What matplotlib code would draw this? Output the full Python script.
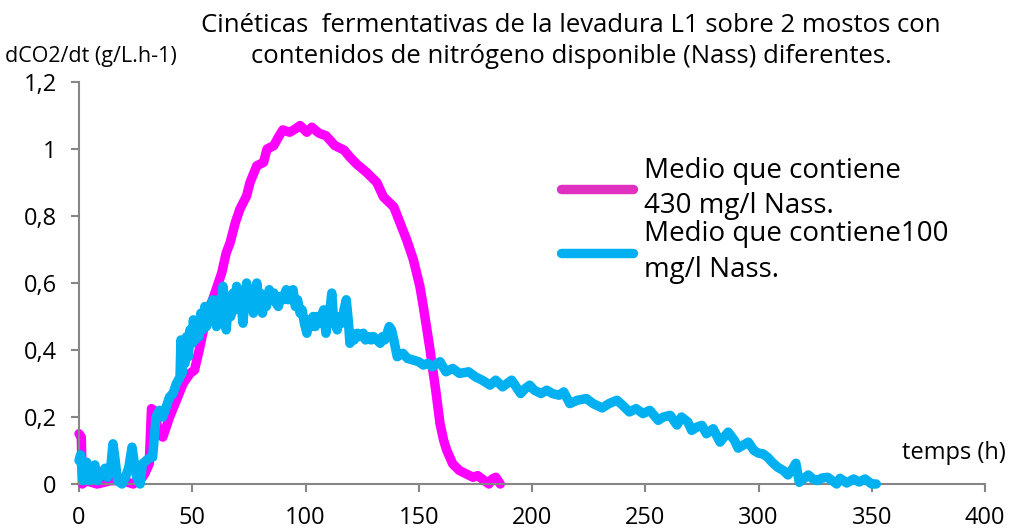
import matplotlib
matplotlib.use('Agg')
import matplotlib.pyplot as plt
from matplotlib.ticker import FuncFormatter

# Medio con 430 mg/l Nass: (tiempo h, dCO2/dt)
nass_430 = [
    (0, 0.15), (1, 0.14), (1.5, 0.0), (3, 0.01), (8, 0.0), (14, 0.01), (19, 0.01),
    (24, 0.0), (28, 0.02), (29, 0.03), (31, 0.06), (32, 0.225), (33, 0.22),
    (34, 0.2), (35, 0.15), (37, 0.14), (40, 0.2), (43, 0.25), (46, 0.3), (49, 0.33),
    (51, 0.34), (53.4, 0.41), (56.5, 0.51), (59, 0.55), (61, 0.59), (63, 0.63),
    (65, 0.69), (66.7, 0.72), (69, 0.78), (71, 0.82), (74, 0.86), (75.5, 0.9),
    (78.5, 0.95), (81.5, 0.96), (83, 1.0), (86, 1.01), (88, 1.035), (90, 1.057),
    (93, 1.05), (95.5, 1.06), (97.6, 1.07), (100.6, 1.05), (102.8, 1.065),
    (106, 1.047), (109, 1.04), (113, 1.01), (117, 0.997), (119.6, 0.976),
    (122.6, 0.955), (127, 0.93), (131.5, 0.9), (134.4, 0.857), (139, 0.827),
    (141.7, 0.78), (144.6, 0.73), (147.6, 0.67), (150.5, 0.59), (152, 0.53),
    (153.4, 0.47), (155, 0.4), (156, 0.35), (157.5, 0.28), (159.4, 0.18),
    (161, 0.13), (162.4, 0.1), (165, 0.06), (168, 0.04), (171, 0.03), (174, 0.02),
    (176, 0.025), (178, 0.015), (180, 0.005), (181, 0.0), (182.5, 0.015),
    (184, 0.02), (185, 0.01), (186, 0.0),
]

# Medio con 100 mg/l Nass, por tramos
nass_100_start = [
    (0, 0.07), (0.7, 0.087), (1.8, 0.01), (3.4, 0.065), (4.5, 0.01), (7, 0.057),
    (8, 0.01), (11.5, 0.047), (12.5, 0.02), (14, 0.05), (15, 0.12), (16, 0.07),
    (17, 0.01), (19, 0.0), (20.5, 0.02), (22, 0.05), (23.4, 0.11), (24.5, 0.06),
    (25.5, 0.02), (27, 0.0), (28, 0.06), (30.5, 0.075), (32.5, 0.08), (33, 0.12),
    (34, 0.2), (35.5, 0.22), (37, 0.2), (38.5, 0.23), (40, 0.26), (41.5, 0.27),
    (43, 0.3), (44.6, 0.32),
]
nass_100_peak = [
    (45, 0.43), (45.5, 0.33), (46, 0.41), (46.8, 0.36), (47.5, 0.44), (48.3, 0.38),
    (49, 0.46), (50, 0.42), (50.5, 0.49), (51.3, 0.43), (52, 0.48), (53, 0.44),
    (53.8, 0.51), (54.5, 0.46), (55.6, 0.53), (56.3, 0.47), (57, 0.52), (58, 0.49),
    (59, 0.55), (60, 0.5), (60.7, 0.47), (61.5, 0.55), (62.3, 0.5), (63.6, 0.59),
    (64.5, 0.52), (65, 0.46), (66, 0.55), (67, 0.5), (68, 0.57), (69, 0.52),
    (69.6, 0.59), (70.5, 0.53), (71.3, 0.56), (72.4, 0.48), (73.2, 0.55), (74, 0.6),
    (75, 0.53), (75.8, 0.57), (77, 0.51), (77.8, 0.56), (78.5, 0.6), (79.3, 0.55),
    (80, 0.57), (81, 0.51), (81.8, 0.55), (82.7, 0.53), (84, 0.58), (85, 0.55),
    (86, 0.57), (87, 0.54), (88, 0.53), (89, 0.56), (90, 0.55), (91.5, 0.58),
    (92.3, 0.55), (93, 0.57), (94, 0.55), (94.5, 0.58), (95.5, 0.53), (96.5, 0.55),
    (97.6, 0.51), (98.5, 0.52), (99.5, 0.48), (100.6, 0.45), (101.5, 0.49),
    (102.5, 0.47), (103.4, 0.5), (104.3, 0.47), (105, 0.5), (106, 0.48), (107, 0.5),
    (108, 0.52), (109, 0.45), (110, 0.5), (110.8, 0.52), (111.6, 0.57), (112.3, 0.5),
    (113, 0.48), (114, 0.46), (115, 0.5), (116, 0.48), (117, 0.52), (118, 0.55),
    (119, 0.48), (119.6, 0.42), (120.5, 0.45), (121.5, 0.43), (123, 0.45),
    (124, 0.44), (125.5, 0.45), (126.5, 0.43), (128, 0.44), (129, 0.43), (130, 0.44),
    (131.5, 0.43), (133, 0.42), (134, 0.44), (135, 0.43), (136, 0.45), (137, 0.47),
    (138, 0.46), (139, 0.43),
]
nass_100_tail = [
    (140.5, 0.38), (143, 0.39), (145, 0.375), (147.5, 0.37), (150, 0.365),
    (152, 0.355), (154, 0.36), (156, 0.35), (159.4, 0.365), (162, 0.335),
    (165, 0.345), (168, 0.33), (172, 0.335), (175, 0.32), (178, 0.31),
    (181.5, 0.295), (184, 0.31), (187, 0.29), (189, 0.3), (191, 0.31), (193, 0.29),
    (195, 0.27), (197, 0.285), (199, 0.295), (201, 0.28), (204, 0.27), (206.5, 0.28),
    (209, 0.27), (212, 0.265), (214, 0.275), (216.7, 0.24), (220, 0.25),
    (224, 0.255), (227, 0.24), (231, 0.227), (234, 0.24), (237.5, 0.25),
    (240, 0.235), (243, 0.215), (246, 0.225), (249, 0.21), (252, 0.22),
    (255.7, 0.19), (258, 0.2), (261, 0.205), (264, 0.176), (266, 0.2), (268.8, 0.185),
    (270.5, 0.16), (272.8, 0.17), (275, 0.175), (277, 0.15), (280, 0.165),
    (283, 0.125), (286.6, 0.155), (289.4, 0.13), (291, 0.107), (293, 0.115),
    (295.5, 0.125), (298, 0.1), (300, 0.092), (302, 0.09), (304, 0.08),
    (306, 0.065), (308.5, 0.05), (311, 0.04), (313, 0.027), (315, 0.045),
    (316.5, 0.062), (318, 0.005), (319.8, 0.015), (322, 0.027), (324, 0.015),
    (326, 0.01), (328, 0.018), (330.5, 0.02), (333, 0.008), (334.5, 0.0),
    (336, 0.017), (339, 0.003), (342, 0.015), (344.5, 0.006), (347, 0.015),
    (350, 0.0), (352, 0.0),
]

label_430 = 'Medio que contiene\n430 mg/l Nass.'
label_100 = 'Medio que contiene100\nmg/l Nass.'
title_1 = 'Cinéticas  fermentativas de la levadura L1 sobre 2 mostos con'
title_2 = 'contenidos de nitrógeno disponible (Nass) diferentes.'
y_label = 'dCO2/dt (g/L.h-1)'
x_label = 'temps (h)'
x_ticks = [0, 50, 100, 150, 200, 250, 300, 350, 400]
y_ticks = [0, 0.2, 0.4, 0.6, 0.8, 1.0, 1.2]

plt.rcParams['font.family'] = ['Open Sans', 'DejaVu Sans']

t_430, y_430 = zip(*nass_430)
t_100, y_100 = zip(*(nass_100_start + nass_100_peak + nass_100_tail))

fig = plt.figure(figsize=(10.17, 5.32), dpi=100)
ax = fig.add_axes([79 / 1017, 1 - 484 / 532, (985 - 79) / 1017, (484 - 82) / 532])

# Curves
ax.plot(t_430, y_430, color='#FF00FF', lw=6.8, solid_capstyle='round',
        solid_joinstyle='round', label=label_430, clip_on=False, zorder=2)
ax.plot(t_100, y_100, color='#00B0F0', lw=6.8, solid_capstyle='round',
        solid_joinstyle='round', label=label_100, clip_on=False, zorder=3)

# Axes
ax.set_xlim(0, 400)
ax.set_ylim(0, 1.2)
ax.set_xticks(x_ticks)
ax.set_yticks(y_ticks)
ax.yaxis.set_major_formatter(FuncFormatter(lambda v, p: ('%g' % round(v, 1)).replace('.', ',')))
for side in ['top', 'right']:
    ax.spines[side].set_visible(False)
for side in ['left', 'bottom']:
    ax.spines[side].set_color('#868686')
    ax.spines[side].set_linewidth(1.5)
ax.tick_params(axis='both', direction='out', length=6, width=1.5, color='#868686',
               labelsize=17, pad=10)

# Texts
fig.text(571 / 1017, 1 - 32 / 532, title_1, ha='center', va='baseline', fontsize=18.5)
fig.text(571 / 1017, 1 - 63 / 532, title_2, ha='center', va='baseline', fontsize=18.5)
fig.text(5 / 1017, 1 - 62 / 532, y_label, ha='left', va='baseline', fontsize=15.5)
fig.text(1006 / 1017, 1 - 453 / 532, x_label, ha='right', va='center', fontsize=17)

# Legend
leg = ax.legend(loc='upper left', bbox_to_anchor=(536 / 1017, 1 - 132 / 532),
                bbox_transform=fig.transFigure, frameon=False, fontsize=20,
                handlelength=2.6, handletextpad=0.4, labelspacing=0.0)
for txt in leg.get_texts():
    txt.set_linespacing(1.35)
leg.legend_handles[0].set_color('#E030C0')

fig.savefig('out.png', dpi=100)
